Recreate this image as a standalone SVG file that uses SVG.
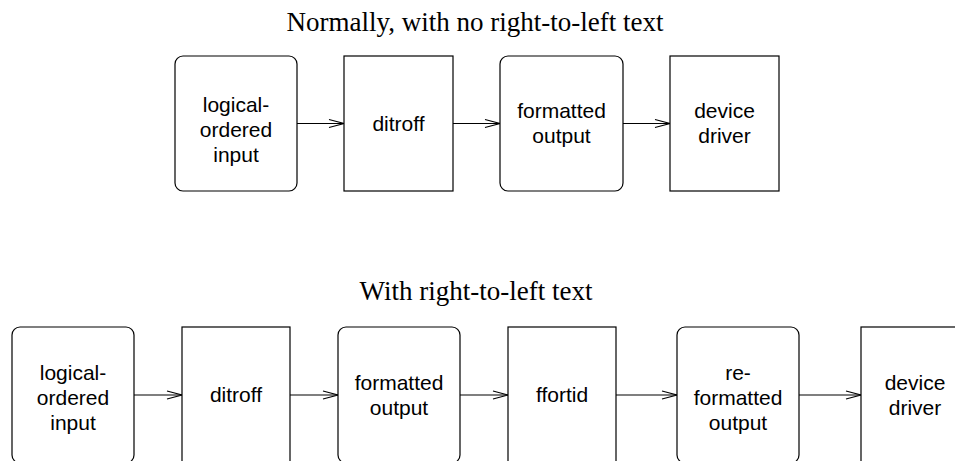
<svg xmlns="http://www.w3.org/2000/svg" width="955" height="461" viewBox="0 0 955 461">
<defs>
<style>
.box{fill:#fff;stroke:#000;stroke-width:1.2}
.lbl{font-family:"Liberation Sans",Arial,sans-serif;font-size:21px;fill:#000;text-anchor:middle}
.title{font-family:"Liberation Serif","Times New Roman",serif;font-size:27px;fill:#000;text-anchor:middle}
.conn{stroke:#000;stroke-width:1.2;fill:none}
</style>
<marker id="ah" markerUnits="userSpaceOnUse" markerWidth="20" markerHeight="12" viewBox="-16 -6 20 12" refX="0" refY="0" orient="auto">
<path d="M-15,-4 L0,0 L-15,4" fill="none" stroke="#000" stroke-width="1.2"/>
</marker>
</defs>
<rect width="955" height="461" fill="#fff"/>
<text class="title" x="475" y="31">Normally, with no right-to-left text</text>
<text class="title" x="476" y="300">With right-to-left text</text>

<g id="connectors">
<line class="conn" x1="297" y1="123.5" x2="344" y2="123.5" marker-end="url(#ah)"/>
<line class="conn" x1="453" y1="123.5" x2="500" y2="123.5" marker-end="url(#ah)"/>
<line class="conn" x1="623" y1="123.5" x2="670" y2="123.5" marker-end="url(#ah)"/>
<line class="conn" x1="134" y1="395" x2="182" y2="395" marker-end="url(#ah)"/>
<line class="conn" x1="290" y1="395" x2="338" y2="395" marker-end="url(#ah)"/>
<line class="conn" x1="460" y1="395" x2="508" y2="395" marker-end="url(#ah)"/>
<line class="conn" x1="616" y1="395" x2="677" y2="395" marker-end="url(#ah)"/>
<line class="conn" x1="799" y1="395" x2="861" y2="395" marker-end="url(#ah)"/>
</g>

<g id="t-input">
<rect class="box" x="175" y="56" width="122" height="135" rx="8"/>
<text class="lbl" x="236" y="112">logical-</text>
<text class="lbl" x="236" y="137">ordered</text>
<text class="lbl" x="236" y="162">input</text>
</g>
<g id="t-ditroff">
<rect class="box" x="344" y="56" width="109" height="135"/>
<text class="lbl" x="398.5" y="130.5">ditroff</text>
</g>
<g id="t-formatted">
<rect class="box" x="500" y="56" width="123" height="135" rx="8"/>
<text class="lbl" x="561.5" y="118">formatted</text>
<text class="lbl" x="561.5" y="143">output</text>
</g>
<g id="t-driver">
<rect class="box" x="670" y="56" width="109" height="135"/>
<text class="lbl" x="724.5" y="118">device</text>
<text class="lbl" x="724.5" y="143">driver</text>
</g>

<g id="b-input">
<rect class="box" x="12" y="327" width="122" height="136" rx="8"/>
<text class="lbl" x="73" y="380">logical-</text>
<text class="lbl" x="73" y="405">ordered</text>
<text class="lbl" x="73" y="430">input</text>
</g>
<g id="b-ditroff">
<rect class="box" x="182" y="327" width="108" height="136"/>
<text class="lbl" x="236" y="402">ditroff</text>
</g>
<g id="b-formatted">
<rect class="box" x="338" y="327" width="122" height="136" rx="8"/>
<text class="lbl" x="399" y="389.5">formatted</text>
<text class="lbl" x="399" y="414.5">output</text>
</g>
<g id="b-ffortid">
<rect class="box" x="508" y="327" width="108" height="136"/>
<text class="lbl" x="562" y="402">ffortid</text>
</g>
<g id="b-reformatted">
<rect class="box" x="677" y="327" width="122" height="136" rx="8"/>
<text class="lbl" x="738" y="380">re-</text>
<text class="lbl" x="738" y="405">formatted</text>
<text class="lbl" x="738" y="430">output</text>
</g>
<g id="b-driver">
<rect class="box" x="861" y="327" width="108" height="136"/>
<text class="lbl" x="915" y="389.5">device</text>
<text class="lbl" x="915" y="414.5">driver</text>
</g>
</svg>
